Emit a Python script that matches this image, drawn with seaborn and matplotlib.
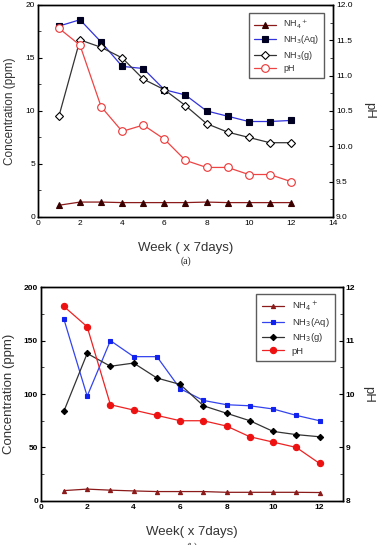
import matplotlib
matplotlib.use("Agg")
import matplotlib.pyplot as plt
import seaborn as sns
import pandas as pd
from matplotlib.ticker import MultipleLocator, FormatStrFormatter
from matplotlib.lines import Line2D

sns.set_theme(style="white")
plt.rcParams['font.family'] = ['Liberation Sans', 'DejaVu Sans']

weeks = list(range(1, 13))

# (a)
a_nh4 = [1.1, 1.4, 1.4, 1.35, 1.35, 1.35, 1.35, 1.4, 1.35, 1.35, 1.35, 1.35]
a_aq = [18.0, 18.6, 16.5, 14.2, 14.0, 12.0, 11.5, 10.0, 9.5, 9.0, 9.0, 9.1]
a_g = [9.5, 16.7, 16.0, 15.0, 13.0, 12.0, 10.5, 8.8, 8.0, 7.5, 7.0, 7.0]
a_ph = [11.67, 11.43, 10.56, 10.21, 10.30, 10.10, 9.80, 9.70, 9.70, 9.60, 9.60, 9.50]

# (b)
b_nh4 = [9.6, 11.0, 10.0, 9.3, 8.7, 8.7, 8.7, 8.0, 8.0, 8.0, 8.0, 7.8]
b_aq = [170, 98, 150, 135, 135, 105, 94, 90, 89, 86, 80, 75]
b_g = [84, 138, 126, 129, 115, 109, 89, 82, 75, 65, 62, 60]
b_ph = [11.64, 11.26, 9.80, 9.70, 9.60, 9.50, 9.50, 9.40, 9.20, 9.10, 9.00, 8.70]

legend_labels = ["NH$_4$$^+$", "NH$_3$(Aq)", "NH$_3$(g)", "pH"]

fig = plt.figure(figsize=(3.82, 5.45), dpi=100)

label_color = "#333333"


def style_axis(ax, ticksize, bold):
    for s in ax.spines.values():
        s.set_color("black")
        s.set_linewidth(1.0)
    ax.tick_params(direction="in", length=3, width=0.8, labelsize=ticksize,
                   colors="black", pad=2)
    ax.tick_params(which="minor", direction="in", length=2, width=0.6)
    for lab in ax.get_xticklabels() + ax.get_yticklabels():
        lab.set_fontweight("bold" if bold else "normal")


def draw_panel(rect, nh4, aq, g, ph, cfg):
    ax = fig.add_axes(rect)
    ax2 = ax.twinx()
    df = pd.DataFrame({"week": weeks, "nh4": nh4, "aq": aq, "g": g, "ph": ph})
    handles = []
    for col, (lc, mk, mfc, mec, ms) in zip(["nh4", "aq", "g"], cfg["styles"][:3]):
        sns.lineplot(data=df, x="week", y=col, ax=ax, color=lc, marker=mk,
                     markerfacecolor=mfc, markeredgecolor=mec, markersize=ms,
                     markeredgewidth=0.8, linewidth=0.9, legend=False)
        handles.append(Line2D([], [], color=lc, marker=mk, markerfacecolor=mfc,
                              markeredgecolor=mec, markersize=ms, markeredgewidth=0.8,
                              linewidth=0.9))
    lc, mk, mfc, mec, ms = cfg["styles"][3]
    sns.lineplot(data=df, x="week", y="ph", ax=ax2, color=lc, marker=mk,
                 markerfacecolor=mfc, markeredgecolor=mec, markersize=ms,
                 markeredgewidth=0.8, linewidth=0.9, legend=False)
    handles.append(Line2D([], [], color=lc, marker=mk, markerfacecolor=mfc,
                          markeredgecolor=mec, markersize=ms, markeredgewidth=0.8,
                          linewidth=0.9))

    ax.set_xlim(*cfg["xlim"])
    ax.set_ylim(*cfg["ylim"])
    ax2.set_ylim(*cfg["y2lim"])
    ax.xaxis.set_major_locator(MultipleLocator(2))
    ax.xaxis.set_minor_locator(MultipleLocator(1))
    ax.yaxis.set_major_locator(MultipleLocator(cfg["ymaj"]))
    ax.yaxis.set_minor_locator(MultipleLocator(cfg["ymaj"] / 2))
    ax2.yaxis.set_major_locator(MultipleLocator(cfg["y2maj"]))
    ax2.yaxis.set_minor_locator(MultipleLocator(cfg["y2maj"] / 2))
    if cfg["y2fmt"]:
        ax2.yaxis.set_major_formatter(FormatStrFormatter(cfg["y2fmt"]))

    ax.set_xlabel(cfg["xlabel"], fontsize=9.5, color=label_color, labelpad=cfg["xpad"])
    ax.set_ylabel(cfg["ylabel"], fontsize=cfg["ylfs"], color=label_color,
                  labelpad=cfg["ypad"])
    ax2.set_ylabel("pH", fontsize=9.5, color=label_color, rotation=270, labelpad=cfg["y2pad"])
    style_axis(ax, cfg["ticksize"], cfg["bold"])
    style_axis(ax2, cfg["ticksize"], cfg["bold"])
    ax.grid(False)
    ax2.grid(False)

    leg = ax2.legend(handles, legend_labels, loc="upper right",
                     bbox_to_anchor=cfg["legpos"], fontsize=cfg["legfs"],
                     frameon=True, fancybox=False, edgecolor="#333333",
                     handlelength=2.4, borderpad=0.6, labelspacing=0.25,
                     handletextpad=0.8)
    leg.get_frame().set_linewidth(1.0)
    for t in leg.get_texts():
        t.set_color("#333333")
    return ax


cfg_a = dict(
    styles=[("#8b1a1a", "^", "#3a0000", "#3a0000", 4.5),
            ("#3333dd", "s", "#000022", "#000022", 4.5),
            ("#333333", "D", "white", "black", 4.5),
            ("#ee4444", "o", "white", "#ee3333", 5.5)],
    xlim=(0, 14), ylim=(0, 20), y2lim=(9, 12), ymaj=5, y2maj=0.5, y2fmt="%.1f",
    xlabel="Week ( x 7days)", ylabel="Concentration (ppm)", ylfs=8.5,
    xpad=11, ypad=7, y2pad=16, ticksize=6, bold=False,
    legpos=(0.985, 0.985), legfs=6.5,
)
ax_a = draw_panel([0.099, 0.602, 0.773, 0.389], a_nh4, a_aq, a_g, a_ph, cfg_a)
ax_a.text(0.5, -0.21, "(a)", transform=ax_a.transAxes, ha="center", va="center",
          fontsize=7, family="Liberation Serif", color="#222222")

cfg_b = dict(
    styles=[("#8b1a1a", "^", "#8b1a1a", "#8b1a1a", 3.0),
            ("#3344ee", "s", "#1122ee", "#1122ee", 3.2),
            ("#333333", "D", "black", "black", 3.2),
            ("#ee2222", "o", "#ee1111", "#ee1111", 4.5)],
    xlim=(0, 13), ylim=(0, 200), y2lim=(8, 12), ymaj=50, y2maj=1, y2fmt=None,
    xlabel="Week( x 7days)", ylabel="Concentration (ppm)", ylfs=9.5,
    xpad=11, ypad=6, y2pad=14, ticksize=6, bold=True,
    legpos=(0.99, 0.99), legfs=6.8,
)
ax_b = draw_panel([0.1065, 0.081, 0.791, 0.392], b_nh4, b_aq, b_g, b_ph, cfg_b)
ax_b.text(0.5, -0.215, "(b)", transform=ax_b.transAxes, ha="center", va="center",
          fontsize=7, family="Liberation Serif", color="#222222")

fig.savefig("out.png", dpi=100)
